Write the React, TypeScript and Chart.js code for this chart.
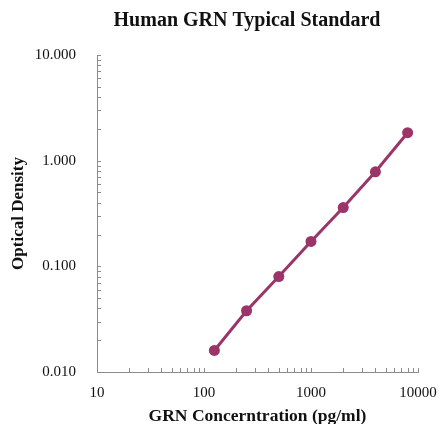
import React, { useEffect, useRef } from "react";
import { Chart, registerables } from "chart.js";

Chart.register(...registerables);

const concentrations = [125, 250, 500, 1000, 2000, 4000, 8000];
const opticalDensity = [0.016, 0.038, 0.08, 0.172, 0.36, 0.785, 1.84];
const xMajorTicks = [10, 100, 1000, 10000];
const yMajorTicks = [0.01, 0.1, 1, 10];

const chartTitle = "Human GRN Typical Standard";
const xTitle = "GRN Concerntration (pg/ml)";
const yTitle = "Optical Density";

const LINE_COLOR = "#9b3468";
const AXIS_COLOR = "#8c8c8c";
const FONT = "'Liberation Serif', 'Times New Roman', serif";

function logTicks(min: number, max: number) {
  const out: { value: number }[] = [];
  for (let d = min; d < max; d *= 10) {
    for (let k = 1; k <= 9; k++) out.push({ value: +(d * k).toPrecision(6) });
  }
  out.push({ value: max });
  return out;
}

const isMajor = (v: number, majors: number[]) =>
  majors.some((m) => Math.abs(v - m) / m < 1e-6);

const innerTicks = {
  id: "innerTicks",
  afterDraw(chart: any) {
    const ctx = chart.ctx;
    const xs = chart.scales.x;
    const ys = chart.scales.y;
    const area = chart.chartArea;
    ctx.save();
    ctx.strokeStyle = AXIS_COLOR;
    ctx.lineWidth = 1;
    ctx.beginPath();
    xs.ticks.forEach((t: any) => {
      const px = Math.round(xs.getPixelForValue(t.value)) + 0.5;
      ctx.moveTo(px, area.bottom);
      ctx.lineTo(px, area.bottom - 4);
    });
    ys.ticks.forEach((t: any) => {
      const py = Math.round(ys.getPixelForValue(t.value)) + 0.5;
      ctx.moveTo(area.left, py);
      ctx.lineTo(area.left + 4, py);
    });
    ctx.stroke();

    ctx.fillStyle = "#111";
    ctx.textAlign = "center";
    ctx.textBaseline = "middle";
    ctx.font = `bold 20px ${FONT}`;
    ctx.fillText(chartTitle, 247, 21);

    ctx.translate(19, (area.top + area.bottom) / 2);
    ctx.rotate(-Math.PI / 2);
    ctx.font = `bold 17px ${FONT}`;
    ctx.fillText(yTitle, 0, 0);
    ctx.restore();
  },
};

export default function App() {
  const ref = useRef<HTMLCanvasElement>(null);
  useEffect(() => {
    document.body.style.margin = "0";
    const chart = new Chart(ref.current!, {
      type: "line",
      data: {
        datasets: [
          {
            data: concentrations.map((x, i) => ({ x, y: opticalDensity[i] })),
            borderColor: LINE_COLOR,
            backgroundColor: LINE_COLOR,
            borderWidth: 3,
            pointRadius: 5.5,
            pointBackgroundColor: LINE_COLOR,
            pointBorderWidth: 0,
            tension: 0,
          },
        ],
      },
      options: {
        responsive: false,
        animation: false,
        layout: { padding: { top: 55, right: 21, left: 0, bottom: 0 } },
        plugins: { legend: { display: false }, tooltip: { enabled: false }, title: { display: false } },
        scales: {
          x: {
            type: "logarithmic",
            min: 10,
            max: 10000,
            afterBuildTicks: (s: any) => {
              s.ticks = logTicks(10, 10000);
            },
            afterFit: (s: any) => {
              s.height = 52;
              s.paddingRight = 0;
              s.paddingLeft = 0;
            },
            grid: { display: true, drawOnChartArea: false, drawTicks: false },
            border: { color: AXIS_COLOR, width: 1 },
            ticks: {
              autoSkip: false,
              maxRotation: 0,
              padding: 12,
              color: "#111",
              font: { family: FONT, size: 15 },
              callback: (v: any) => (isMajor(Number(v), xMajorTicks) ? String(Number(v)) : ""),
            },
            title: {
              display: true,
              text: xTitle,
              color: "#111",
              font: { family: FONT, size: 17.5, weight: "bold" },
              padding: { top: 0, bottom: -3 },
            },
          },
          y: {
            type: "logarithmic",
            min: 0.01,
            max: 10,
            afterBuildTicks: (s: any) => {
              s.ticks = logTicks(0.01, 10);
            },
            afterFit: (s: any) => {
              s.width = 97;
            },
            grid: { display: true, drawOnChartArea: false, drawTicks: false },
            border: { color: AXIS_COLOR, width: 1 },
            ticks: {
              autoSkip: false,
              padding: 21,
              color: "#111",
              font: { family: FONT, size: 15 },
              callback: (v: any) => (isMajor(Number(v), yMajorTicks) ? Number(v).toFixed(3) : ""),
            },
          },
        },
      },
      plugins: [innerTicks],
    });
    return () => chart.destroy();
  }, []);
  return (
    <div style={{ width: 439, height: 424 }}>
      <canvas ref={ref} width={439} height={424} style={{ display: "block" }} />
    </div>
  );
}
